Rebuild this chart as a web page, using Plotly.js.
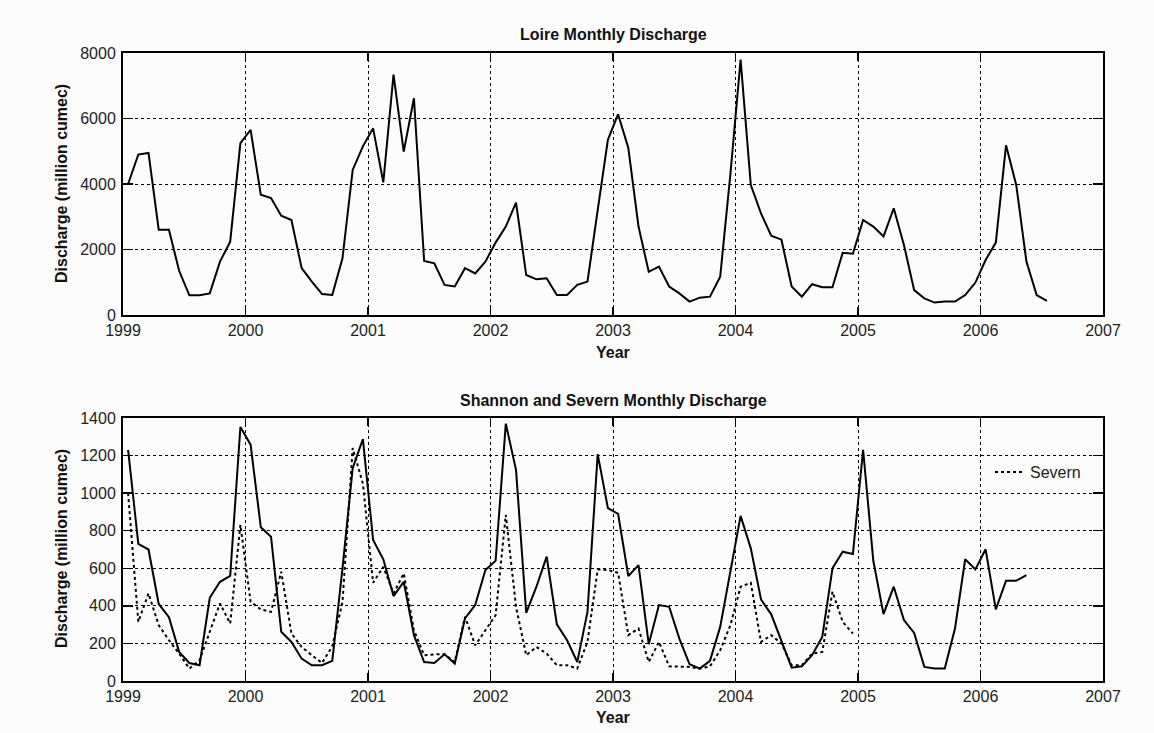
<!DOCTYPE html>
<html>
<head>
<meta charset="utf-8">
<script src="https://cdn.plot.ly/plotly-3.0.1.min.js"></script>
<style>
  html, body { margin: 0; padding: 0; background: #fcfcfc; }
  #chart { width: 1154px; height: 733px; }
</style>
</head>
<body>
<div id="chart"></div>
<script>
// Monthly series starting January 1999 (one value per month)
const startYear = 1999;

const loireMonthly = [
  4000, 4900, 4950, 2600, 2600, 1350, 600, 600, 660, 1630, 2240, 5250,
  5650, 3670, 3570, 3030, 2900, 1430, 1020, 640, 610, 1730, 4430, 5150,
  5700, 4050, 7340, 4990, 6620, 1650, 1580, 920, 870, 1430, 1270, 1630,
  2210, 2700, 3430, 1220, 1090, 1120, 610, 610, 920, 1020, 3200, 5350,
  6130, 5100, 2700, 1320, 1480, 870, 660, 410, 530, 560, 1170, 4300,
  7800, 3970, 3100, 2420, 2300, 870, 560, 940, 850, 850, 1900, 1870,
  2900, 2700, 2400, 3260, 2140, 760, 510, 380, 410, 410, 610, 990,
  1680, 2210, 5180, 3970, 1630, 610, 430
];

const shannonMonthly = [
  1230, 730, 700, 410, 340, 155, 96, 84, 443, 528, 559, 1352,
  1258, 818, 768, 262, 208, 119, 84, 84, 107, 600, 1133, 1288,
  751, 648, 452, 528, 244, 101, 96, 142, 93, 333, 404, 591,
  640, 1370, 1124, 363, 502, 662, 302, 217, 101, 368, 1208, 920,
  890, 559, 617, 196, 404, 395, 226, 89, 66, 107, 288, 591,
  879, 706, 434, 355, 208, 71, 78, 137, 235, 600, 688, 676,
  1231, 640, 356, 502, 324, 256, 75, 66, 66, 279, 648, 594,
  701, 381, 534, 534, 564
];

const severnMonthly = [
  1000, 315, 466, 297, 217, 146, 66, 110, 262, 413, 306, 831,
  422, 381, 368, 582, 253, 181, 137, 96, 185, 420, 1240, 1050,
  523, 608, 466, 573, 270, 137, 142, 142, 101, 342, 190, 270,
  350, 884, 395, 137, 181, 146, 84, 84, 66, 208, 594, 591,
  576, 244, 279, 101, 208, 78, 78, 75, 66, 78, 164, 297,
  502, 523, 208, 244, 199, 84, 84, 146, 155, 475, 315, 253
];

const yearTicks = [1999, 2000, 2001, 2002, 2003, 2004, 2005, 2006, 2007];

// mid-month positions in decimal years
const monthX = n => Array.from({length: n}, (_, i) => startYear + (i + 0.5) / 12);

const W = 1154, H = 733;
const px = x => x / W;
const py = y => (H - y) / H;

const font = 'Liberation Sans, Arial, sans-serif';
const tickFont = {family: font, size: 16, color: '#222'};

const traces = [
  {
    x: monthX(loireMonthly.length), y: loireMonthly,
    xaxis: 'x', yaxis: 'y', mode: 'lines', name: 'Loire',
    line: {color: '#000', width: 2}, showlegend: false
  },
  {
    x: monthX(shannonMonthly.length), y: shannonMonthly,
    xaxis: 'x2', yaxis: 'y2', mode: 'lines', name: 'Shannon',
    line: {color: '#000', width: 2}, showlegend: false
  },
  {
    x: monthX(severnMonthly.length), y: severnMonthly,
    xaxis: 'x2', yaxis: 'y2', mode: 'lines', name: 'Severn',
    line: {color: '#000', width: 2, dash: 'dot'}, showlegend: true
  }
];

function xAxis(anchor, top, bottom) {
  return {
    anchor: anchor,
    domain: [px(123), px(1103)],
    range: [1999, 2007],
    tickvals: yearTicks,
    ticktext: yearTicks.map(String),
    ticks: 'inside', ticklen: 8, tickwidth: 1.5, tickcolor: '#000',
    showline: true, linecolor: '#000', linewidth: 2, mirror: 'ticks',
    showgrid: true, gridcolor: '#000', gridwidth: 1, griddash: '3px,3px',
    zeroline: false, tickfont: tickFont, fixedrange: true
  };
}

function yAxis(anchor, top, bottom, maxV, step) {
  return {
    anchor: anchor,
    domain: [py(bottom), py(top)],
    range: [0, maxV],
    dtick: step, tick0: 0,
    ticks: 'inside', ticklen: 10, tickwidth: 1.5, tickcolor: '#000',
    showline: true, linecolor: '#000', linewidth: 2, mirror: 'ticks',
    showgrid: true, gridcolor: '#000', gridwidth: 1, griddash: '3px,3px',
    zeroline: false, tickfont: tickFont, ticklabelstandoff: 2, fixedrange: true
  };
}

const boldFont = {family: font, size: 16, color: '#111', weight: 'bold'};

const layout = {
  width: W, height: H,
  margin: {l: 0, r: 0, t: 0, b: 0},
  paper_bgcolor: '#fcfcfc',
  plot_bgcolor: '#fcfcfc',
  xaxis: xAxis('y', 53, 315),
  yaxis: yAxis('x', 53, 315, 8000, 2000),
  xaxis2: xAxis('y2', 418, 681),
  yaxis2: yAxis('x2', 418, 681, 1400, 200),
  showlegend: true,
  legend: {
    x: px(990), y: py(472), xanchor: 'left', yanchor: 'middle',
    bgcolor: 'rgba(0,0,0,0)', borderwidth: 0,
    font: {family: font, size: 16, color: '#222'}
  },
  annotations: [
    {text: '<b>Loire Monthly Discharge</b>', x: px(613), y: py(35), xref: 'paper', yref: 'paper',
     showarrow: false, font: boldFont, xanchor: 'center', yanchor: 'middle'},
    {text: '<b>Shannon and Severn Monthly Discharge</b>', x: px(613), y: py(400), xref: 'paper', yref: 'paper',
     showarrow: false, font: boldFont, xanchor: 'center', yanchor: 'middle'},
    {text: '<b>Year</b>', x: px(613), y: py(352), xref: 'paper', yref: 'paper',
     showarrow: false, font: boldFont, xanchor: 'center', yanchor: 'middle'},
    {text: '<b>Year</b>', x: px(613), y: py(717), xref: 'paper', yref: 'paper',
     showarrow: false, font: boldFont, xanchor: 'center', yanchor: 'middle'},
    {text: '<b>Discharge (million cumec)</b>', x: px(62), y: py(184), xref: 'paper', yref: 'paper',
     showarrow: false, font: boldFont, textangle: -90, xanchor: 'center', yanchor: 'middle'},
    {text: '<b>Discharge (million cumec)</b>', x: px(62), y: py(549), xref: 'paper', yref: 'paper',
     showarrow: false, font: boldFont, textangle: -90, xanchor: 'center', yanchor: 'middle'}
  ]
};

Plotly.newPlot('chart', traces, layout, {displayModeBar: false, staticPlot: true});
</script>
</body>
</html>
